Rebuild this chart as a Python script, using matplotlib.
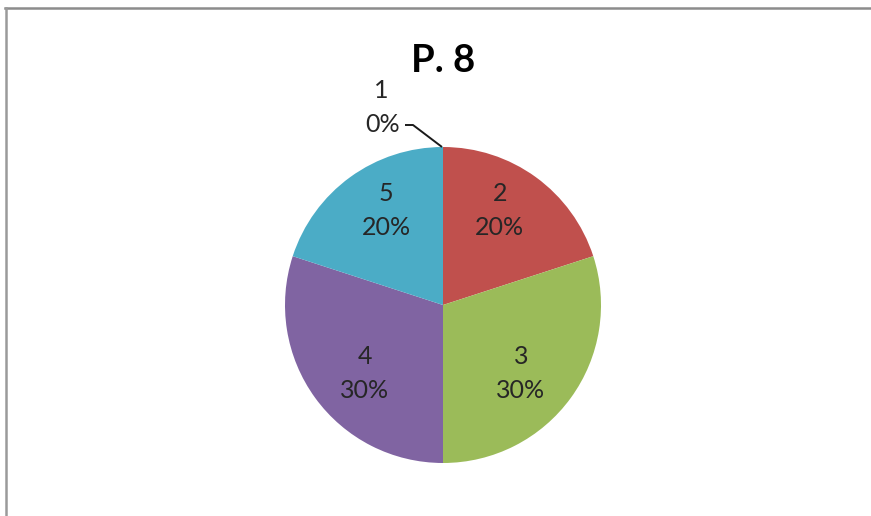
import matplotlib
matplotlib.use("Agg")
import matplotlib.pyplot as plt
import numpy as np
from matplotlib.lines import Line2D

# Chart data
categories = ["1", "2", "3", "4", "5"]
values = [0, 20, 30, 30, 20]
title = "P. 8"
colors = ["#4F81BD", "#C0504D", "#9BBB59", "#8064A2", "#4BACC6"]

W, H = 871, 516
fig = plt.figure(figsize=(W / 100, H / 100), dpi=100)
ax = fig.add_axes([0, 0, 1, 1])

cx, cy, r = 443, H - 305, 158
wedges, _ = ax.pie(values, colors=colors, startangle=90, counterclock=False,
                   radius=r, center=(cx, cy), wedgeprops=dict(linewidth=0))

ax.set_xlim(0, W)
ax.set_ylim(0, H)
ax.set_aspect("equal")
ax.axis("off")

font = ["Lato", "DejaVu Sans"]
fs = 18
total = sum(values)
for w, cat, v in zip(wedges, categories, values):
    pct = f"{round(100 * v / total)}%"
    if v == 0:
        # zero slice: label outside with a leader line to the top of the pie
        ax.text(381, H - 90, cat, ha="center", va="center", fontsize=fs,
                color="#262626", family=font)
        ax.text(383, H - 124, pct, ha="center", va="center", fontsize=fs,
                color="#262626", family=font)
        ax.plot([405, 413, cx - 1], [H - 125, H - 125, cy + r],
                color="#1a1a1a", lw=1.4, solid_capstyle="butt")
        continue
    mid = np.deg2rad((w.theta1 + w.theta2) / 2)
    x = cx + 0.61 * r * np.cos(mid)
    y = cy + 0.74 * r * np.sin(mid)
    ax.text(x, y, f"{cat}\n{pct}", ha="center", va="center", fontsize=fs,
            color="#262626", family=font, linespacing=1.55)

ax.text(cx, H - 61, title, ha="center", va="center", fontsize=27.5,
        fontweight="bold", color="black", family=font)

# chart area border (top and left edges)
fig.add_artist(Line2D([5 / W, 1], [1 - 8 / H, 1 - 8 / H], transform=fig.transFigure,
                      color="#8c8c8c", lw=1.8))
fig.add_artist(Line2D([6 / W, 6 / W], [0, 1 - 8 / H], transform=fig.transFigure,
                      color="#9a9a9a", lw=1.8))

fig.savefig("out.png", dpi=100, facecolor="white")
